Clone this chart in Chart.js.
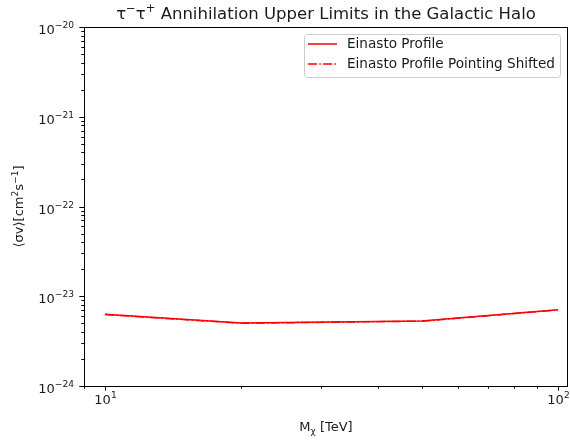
<!DOCTYPE html>
<html>
<head>
<meta charset="utf-8">
<script src="https://cdn.jsdelivr.net/npm/chart.js@4"></script>
<style>
  html, body { margin: 0; padding: 0; background: #fff; }
  #wrap { width: 570px; height: 441px; }
</style>
</head>
<body>
<div id="wrap"><canvas id="chart" width="570" height="441"></canvas></div>
<script>
// Dados
const masses = [10, 20, 50, 100];
const einasto = [6.3e-24, 5.04e-24, 5.3e-24, 7.08e-24];
const einastoShifted = [6.25e-24, 5.0e-24, 5.28e-24, 7.05e-24];
const seriesLabels = ['Einasto Profile', 'Einasto Profile Pointing Shifted'];
const yDecades = [-24, -23, -22, -21, -20];
const xDecades = [1, 2];
const xRange = [8.99, 105.2];

const font = "'DejaVu Sans', sans-serif";
const textColor = '#1a1a1a';

// Ticks maiores e menores no estilo log
function logTicks(decades, min, max) {
  const out = [];
  for (let e = decades[0] - 1; e <= decades[decades.length - 1]; e++) {
    for (let m = 1; m <= 9; m++) {
      const v = m * Math.pow(10, e);
      if (v >= min * 0.999 && v <= max * 1.001) out.push({ value: v, major: m === 1 });
    }
  }
  return out;
}

// Texto com sobrescrito / subscrito
function richWidth(ctx, parts, fs) {
  let w = 0;
  parts.forEach(p => {
    ctx.font = (p.s ? fs * 0.7 : fs) + 'px ' + font;
    w += ctx.measureText(p.t).width;
  });
  return w;
}
function drawRich(ctx, parts, x, y, fs, align) {
  const w = richWidth(ctx, parts, fs);
  let cx = align === 'right' ? x - w : align === 'center' ? x - w / 2 : x;
  ctx.textBaseline = 'alphabetic';
  ctx.textAlign = 'left';
  parts.forEach(p => {
    const size = p.s ? fs * 0.7 : fs;
    ctx.font = size + 'px ' + font;
    const dy = p.s === 'sup' ? -0.42 * fs : p.s === 'sub' ? 0.2 * fs : 0;
    ctx.fillText(p.t, cx, y + dy);
    cx += ctx.measureText(p.t).width;
  });
}
const powParts = (e) => [{ t: '10' }, { t: String(e).replace('-', '−'), s: 'sup' }];

// Moldura, ticks, rótulos e legenda
const decorations = {
  id: 'decorations',
  afterDraw(chart) {
    const ctx = chart.ctx;
    const a = chart.chartArea;
    const xs = chart.scales.x, ys = chart.scales.y;
    ctx.save();
    ctx.strokeStyle = '#000';
    ctx.lineWidth = 1;
    ctx.strokeRect(Math.round(a.left) + 0.5, Math.round(a.top) + 0.5,
      Math.round(a.right - a.left) - 1, Math.round(a.bottom - a.top));

    ctx.fillStyle = textColor;
    xs.ticks.forEach(t => {
      const px = Math.round(xs.getPixelForValue(t.value)) + 0.5;
      const len = t.major ? 4.7 : 2.7;
      ctx.beginPath();
      ctx.moveTo(px, a.bottom);
      ctx.lineTo(px, a.bottom + len);
      ctx.stroke();
      if (t.major) drawRich(ctx, powParts(Math.round(Math.log10(t.value))), px, a.bottom + 17.5, 13, 'center');
    });
    ys.ticks.forEach(t => {
      const py = Math.round(ys.getPixelForValue(t.value)) + 0.5;
      const len = t.major ? 4.7 : 2.7;
      ctx.beginPath();
      ctx.moveTo(a.left, py);
      ctx.lineTo(a.left - len, py);
      ctx.stroke();
      if (t.major) drawRich(ctx, powParts(Math.round(Math.log10(t.value))), a.left - 10, py + 6, 13, 'right');
    });

    // título e rótulos dos eixos
    drawRich(ctx, [{ t: 'τ' }, { t: '−', s: 'sup' }, { t: 'τ' }, { t: '+', s: 'sup' },
      { t: ' Annihilation Upper Limits in the Galactic Halo' }], (a.left + a.right) / 2, 19, 16.5, 'center');
    drawRich(ctx, [{ t: 'M' }, { t: 'χ', s: 'sub' }, { t: ' [TeV]' }], (a.left + a.right) / 2, 431, 13, 'center');
    ctx.save();
    ctx.translate(23, (a.top + a.bottom) / 2);
    ctx.rotate(-Math.PI / 2);
    drawRich(ctx, [{ t: '⟨σv⟩[cm' }, { t: '2', s: 'sup' }, { t: 's' }, { t: '−1', s: 'sup' }, { t: ']' }], 0, 0, 13, 'center');
    ctx.restore();

    // legenda
    const bx = 304.5, by = 34.5, bw = 256, bh = 43;
    ctx.fillStyle = 'rgba(255,255,255,0.8)';
    ctx.strokeStyle = '#cccccc';
    ctx.beginPath();
    ctx.roundRect(bx, by, bw, bh, 3);
    ctx.fill();
    ctx.stroke();
    chart.data.datasets.forEach((ds, i) => {
      const y = 44 + i * 20;
      ctx.strokeStyle = ds.borderColor;
      ctx.lineWidth = ds.borderWidth;
      ctx.setLineDash(ds.borderDash || []);
      ctx.beginPath();
      ctx.moveTo(308, y);
      ctx.lineTo(337, y);
      ctx.stroke();
      ctx.setLineDash([]);
      ctx.fillStyle = textColor;
      ctx.font = '13.6px ' + font;
      ctx.textBaseline = 'middle';
      ctx.textAlign = 'left';
      ctx.fillText(ds.label, 347, y);
    });
    ctx.restore();
  }
};

new Chart(document.getElementById('chart'), {
  type: 'line',
  data: {
    datasets: [{
      label: seriesLabels[0],
      data: masses.map((m, i) => ({ x: m, y: einasto[i] })),
      borderColor: '#ff0000',
      borderWidth: 1.5,
      pointRadius: 0,
      tension: 0,
      fill: false
    }, {
      label: seriesLabels[1],
      data: masses.map((m, i) => ({ x: m, y: einastoShifted[i] })),
      borderColor: '#ff0000',
      borderWidth: 1.5,
      borderDash: [9, 2.3, 1.5, 2.3],
      pointRadius: 0,
      tension: 0,
      fill: false
    }]
  },
  options: {
    responsive: false,
    animation: false,
    devicePixelRatio: 1,
    layout: { padding: { left: 0, right: 2, top: 27, bottom: 0 } },
    plugins: {
      legend: { display: false },
      tooltip: { enabled: false },
      title: { display: false }
    },
    scales: {
      x: {
        type: 'logarithmic',
        min: xRange[0],
        max: xRange[1],
        grid: { display: false },
        border: { display: false },
        ticks: { display: false },
        afterBuildTicks(scale) {
          scale.ticks = logTicks(xDecades, xRange[0], xRange[1]);
        },
        afterFit(scale) { scale.height = 55; scale.paddingLeft = 0; scale.paddingRight = 0; }
      },
      y: {
        type: 'logarithmic',
        min: 1e-24,
        max: 1e-20,
        grid: { display: false },
        border: { display: false },
        ticks: { display: false },
        afterBuildTicks(scale) {
          scale.ticks = logTicks(yDecades, 1e-24, 1e-20);
        },
        afterFit(scale) { scale.width = 84; scale.paddingTop = 0; scale.paddingBottom = 0; }
      }
    }
  },
  plugins: [decorations]
});
</script>
</body>
</html>
